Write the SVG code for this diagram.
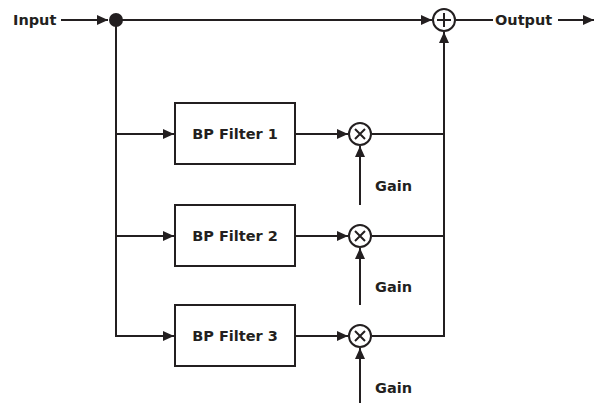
<svg xmlns="http://www.w3.org/2000/svg" width="596" height="403" viewBox="0 0 596 403">
<style>
.ln{stroke:#231f20;stroke-width:2;fill:none}
.bx{stroke:#231f20;stroke-width:2;fill:#fff}
.t{font-family:"DejaVu Sans","Liberation Sans",sans-serif;font-weight:bold;font-size:14.5px;fill:#231f20}
</style>
<defs>
<marker id="ar" markerWidth="11" markerHeight="10" refX="11" refY="5" orient="auto" markerUnits="userSpaceOnUse" viewBox="0 0 11 10">
<path d="M0,0 L11,5 L0,10 Z" fill="#231f20"/>
</marker>
</defs>
<rect width="596" height="403" fill="#fff"/>
<g id="connectors">
<line class="ln" x1="61" y1="20" x2="108" y2="20" marker-end="url(#ar)"/>
<line class="ln" x1="116" y1="20" x2="432" y2="20" marker-end="url(#ar)"/>
<polyline class="ln" points="116,20 116,336 174,336" marker-end="url(#ar)"/>
<line class="ln" x1="116" y1="134" x2="174" y2="134" marker-end="url(#ar)"/>
<line class="ln" x1="116" y1="236" x2="174" y2="236" marker-end="url(#ar)"/>
<line class="ln" x1="295" y1="134" x2="348" y2="134" marker-end="url(#ar)"/>
<line class="ln" x1="295" y1="236" x2="348" y2="236" marker-end="url(#ar)"/>
<line class="ln" x1="295" y1="336" x2="348" y2="336" marker-end="url(#ar)"/>
<line class="ln" x1="360" y1="205" x2="360" y2="146" marker-end="url(#ar)"/>
<line class="ln" x1="360" y1="305" x2="360" y2="248" marker-end="url(#ar)"/>
<line class="ln" x1="360" y1="403" x2="360" y2="348" marker-end="url(#ar)"/>
<line class="ln" x1="372" y1="134" x2="444" y2="134"/>
<line class="ln" x1="372" y1="236" x2="444" y2="236"/>
<polyline class="ln" points="372,336 444,336 444,32" marker-end="url(#ar)"/>
<line class="ln" x1="456" y1="20" x2="493" y2="20"/>
<line class="ln" x1="558" y1="20" x2="594" y2="20" marker-end="url(#ar)"/>
</g>
<g id="input"><text class="t" x="13" y="25">Input</text></g>
<g id="split"><circle cx="116" cy="20" r="7" fill="#231f20"/></g>
<g id="sum">
<circle class="bx" cx="444" cy="20" r="11"/>
<path class="ln" d="M437,20 H451 M444,13 V27"/>
</g>
<g id="output"><text class="t" x="495" y="25">Output</text></g>
<g id="filter1"><rect class="bx" x="175" y="103" width="120" height="61"/><text class="t" x="235" y="139" text-anchor="middle">BP Filter 1</text></g>
<g id="filter2"><rect class="bx" x="175" y="205" width="120" height="61"/><text class="t" x="235" y="241" text-anchor="middle">BP Filter 2</text></g>
<g id="filter3"><rect class="bx" x="175" y="305" width="120" height="61"/><text class="t" x="235" y="341" text-anchor="middle">BP Filter 3</text></g>
<g id="mult1"><circle class="bx" cx="360" cy="134" r="11"/><path class="ln" d="M355,129 L365,139 M365,129 L355,139"/></g>
<g id="mult2"><circle class="bx" cx="360" cy="236" r="11"/><path class="ln" d="M355,231 L365,241 M365,231 L355,241"/></g>
<g id="mult3"><circle class="bx" cx="360" cy="336" r="11"/><path class="ln" d="M355,331 L365,341 M365,331 L355,341"/></g>
<g id="gain1"><text class="t" x="375" y="191">Gain</text></g>
<g id="gain2"><text class="t" x="375" y="292">Gain</text></g>
<g id="gain3"><text class="t" x="375" y="393">Gain</text></g>
</svg>
